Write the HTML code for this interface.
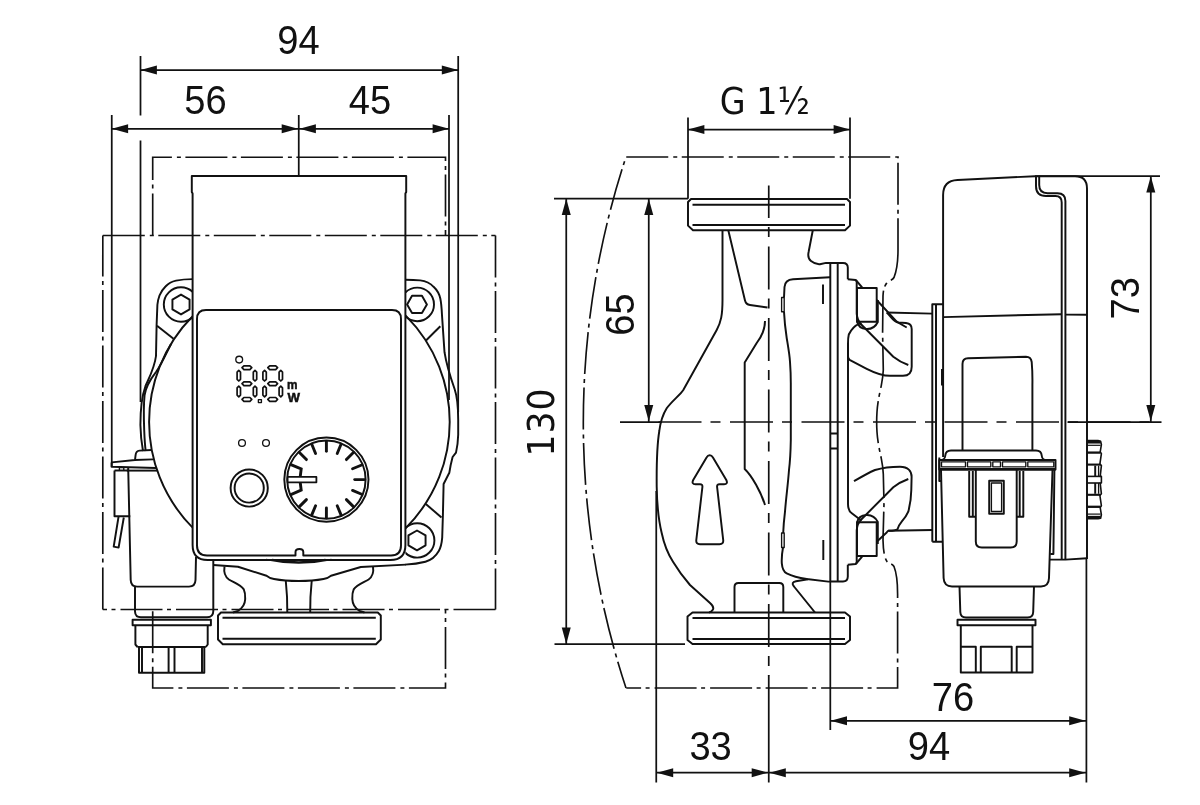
<!DOCTYPE html>
<html><head><meta charset="utf-8"><title>Pump dimensions</title>
<style>
html,body{margin:0;padding:0;background:#fff;}
body{width:1200px;height:805px;overflow:hidden;}
svg{display:block;will-change:transform;}
.o{fill:none;stroke:#111111;stroke-width:1.95;stroke-linejoin:round;stroke-linecap:butt;}
.w{fill:#fff;stroke:#111111;stroke-width:1.75;stroke-linejoin:round;}
.t{fill:none;stroke:#111111;stroke-width:1.35;stroke-linejoin:round;}
.k{fill:none;stroke:#111111;stroke-width:2.9;stroke-linecap:butt;stroke-linejoin:miter;}
.d{fill:none;stroke:#111111;stroke-width:1.75;}
.c{fill:none;stroke:#111111;stroke-width:1.65;stroke-dasharray:42 5 4 4.5;}
.m{fill:none;stroke:#111111;stroke-width:1.7;stroke-dasharray:43 9 10 9.5;}
.a{fill:#111111;stroke:none;}
text{font-family:"Liberation Sans",sans-serif;fill:#111111;}
.b{font-weight:bold;stroke:#111111;stroke-width:0.5px;}
</style></head><body>
<svg width="1200" height="805" viewBox="0 0 1200 805">
<g id="left-view">
<text class="n" transform="translate(298.4,54) scale(0.93,1)" text-anchor="middle" style="font-size:41px;">94</text>
<text class="n" transform="translate(205.4,113.5) scale(0.93,1)" text-anchor="middle" style="font-size:41px;">56</text>
<text class="n" transform="translate(370,113.5) scale(0.93,1)" text-anchor="middle" style="font-size:41px;">45</text>
<line class="d" x1="140.5" y1="70" x2="458.2" y2="70" />
<polygon class="a" points="140.50,70.00 156.90,65.50 156.90,74.50"/>
<polygon class="a" points="458.20,70.00 441.80,74.50 441.80,65.50"/>
<line class="d" x1="111.75" y1="128.75" x2="449" y2="128.75" />
<polygon class="a" points="111.75,128.75 128.15,124.25 128.15,133.25"/>
<polygon class="a" points="298.10,128.75 281.70,133.25 281.70,124.25"/>
<polygon class="a" points="299.50,128.75 315.90,124.25 315.90,133.25"/>
<polygon class="a" points="449.00,128.75 432.60,133.25 432.60,124.25"/>
<line class="d" x1="140.5" y1="56" x2="140.5" y2="115.5" />
<line class="d" x1="140.5" y1="140.5" x2="140.5" y2="402" />
<line class="d" x1="458.2" y1="56" x2="458.2" y2="412" />
<line class="d" x1="111.75" y1="115" x2="111.75" y2="466.8" />
<line class="d" x1="298.75" y1="115" x2="298.75" y2="176" />
<line class="d" x1="449" y1="115" x2="449" y2="400" />
<path class="c" d="M152.7,235.5 V157.2 H445.5 V235.5" stroke-dashoffset="0"/>
<path class="c" d="M152.7,609.5 V688 H445.5 V609.5" stroke-dashoffset="-1.7"/>
<path class="c" d="M102.8,235.5 H495.5" />
<path class="c" d="M495.5,235.5 V609.5" />
<path class="c" d="M495.5,609.5 H102.8" />
<path class="c" d="M102.8,609.5 V235.5" />
<clipPath id="cl"><rect x="0" y="0" width="192.6" height="805"/></clipPath>
<clipPath id="cr"><rect x="405.4" y="0" width="400" height="805"/></clipPath>
<g clip-path="url(#cl)">
<circle class="o" cx="299.4" cy="421.9" r="150.3"/>
<circle class="o" cx="181" cy="304.5" r="17.2"/>
<polygon class="o" points="181.00,294.60 172.43,299.55 172.43,309.45 181.00,314.40 189.57,309.45 189.57,299.55"/>
<path class="o" d="M196,279.1 H192.6 C187,279.1 181,279.6 176,280.6 C171.5,281.6 168,283.8 165.5,286.5 C162.5,289.5 160.6,292.5 159.5,295.5 C158.2,299 157.6,302 157.4,304.8 L156.6,325 L156,356 C154.5,368 149,378 145.5,386 C141.5,397 140.4,408 140.4,425 C140.6,435 141.5,443 143,451" />
<path class="o" d="M171,344 C166,354 161,365 156,372 C150,380 146,386 144.6,395 C143.6,405 143.8,420 144.2,430 C144.6,440 145,446 145.7,451" />
<line class="o" x1="157" y1="325.7" x2="173.5" y2="338.7" />
</g>
<g clip-path="url(#cr)">
<circle class="o" cx="299.4" cy="421.9" r="150.3"/>
<circle class="o" cx="417.2" cy="304.4" r="16.8"/>
<polygon class="o" points="426.90,304.40 421.95,295.83 412.05,295.83 407.10,304.40 412.05,312.97 421.95,312.97"/>
<circle class="o" cx="417.2" cy="540.4" r="17.2"/>
<polygon class="o" points="417.00,530.50 408.43,535.45 408.43,545.35 417.00,550.30 425.57,545.35 425.57,535.45"/>
<path class="o" d="M400,279.8 H405.4 C411,279.8 416,280 420.2,280.4 C426,281.2 430.5,283.5 433.6,286.8 C437,290 439.3,294 440.3,298.5 C441.3,303 441.7,309 442,315.3 L444.5,352.2 C446,362 450,376 454.6,389 C457,396 458.2,405 458.2,420 L458.2,434.7 C458,443 457,448 456,452.6 L452.6,457 C451,463 450,468 449.3,472.8 L443.6,484 L442.9,515.3 L442.2,537.7 C441.6,545 440.6,548 438.8,551 C435.6,556.6 430.6,560.3 425.4,561.7 C418,563.6 410,564.4 403.4,564.7" />
<line class="o" x1="440.3" y1="326.2" x2="426" y2="340.5" />
<line class="o" x1="425.8" y1="504" x2="441.5" y2="517.5" />
</g>
<path class="o" d="M111.6,462.4 L135,460 L135.6,455 Q136,451 139.5,450.6 L151.5,450" />
<path class="o" d="M135,460 L153,459.4" />
<path class="o" d="M111.6,462.4 V466.8 L156,468" />
<path class="o" d="M126.8,470.6 H157.4" />
<path class="t" d="M119.4,470.5 V467.6 H123.8 V470.5" />
<path class="o" d="M114.5,470.5 V516.3 H130.3" />
<path class="o" d="M114.5,470.5 H128.3" />
<path class="o" d="M118.6,516.3 L113.7,546.6 L118.6,547.6 L123.8,517.5" />
<path class="o" d="M128.2,468 L130.7,580 Q130.9,586.6 137,586.6 H189 Q195.3,586.6 195.5,580 L196,557" />
<path class="o" d="M135,586.6 V611.5 Q135.2,617.3 141,617.3 H207 Q213.3,617.3 213.3,611 V560.5" />
<rect class="o" x="132.6" y="619.7" width="78.3" height="5.6"/>
<path class="o" d="M135.4,625.3 V644.5 L137.5,647 M207.7,625.3 V644.5 L205.8,647" />
<path class="o" d="M139,647 V672.7 H204.3 V647" />
<path class="o" d="M137.5,647 H205.8" />
<path class="o" d="M142,647 V672.7 M168.6,647 V672.7 M174.5,647 V672.7 M202,647 V672.7" />
<path class="o" d="M213.3,565 L238,566.7 L266.5,575.8 Q269.5,578.3 274,579 C282,580.5 290,581 298.75,581 C307.5,581 315.5,580.5 323.5,579 Q328,578.3 331,575.8 L360.8,567 L406,564.6" />
<path class="o" d="M224.5,566.5 C223.5,573 225.5,577 228.9,579.5 C232.5,582 240.5,584.5 243.8,589.4 C245,592 245.3,596 245.2,599 C245,604 242,608.5 238,610.8 L233,612.5" />
<path class="o" d="M373,566.5 C374,573 372,577 368.6,579.5 C365,582 357,584.5 353.7,589.4 C352.5,592 352.2,596 352.3,599 C352.5,604 355.5,608.5 359.5,610.8 L364.5,612.5" />
<path class="o" d="M285.8,581 Q287.5,597 287.3,612.5 M311.7,581 Q310,597 310.2,612.5" />
<path class="t" d="M266,559.5 Q298.75,566.5 331.5,559.5 M272,559.5 Q298.75,564.5 325.5,559.5" />
<path class="o" d="M221,612.5 H377.8 L380.8,615.5 V639.5 L376,644.2 H222.8 L218,639.5 V615.5 Z" />
<path class="o" d="M222.5,617.8 H375.8 M222.5,638.8 H375.8" />
<path class="o" d="M191.8,176 H406.2 V192 L405.4,193.5 V544.9 Q405.4,559.9 390.4,559.9 H207.6 Q192.6,559.9 192.6,544.9 V193.5 L191.8,192 Z" />
<path class="o" d="M206,310 H392 Q401,310 401,319 V545.4 Q401,555.4 391,555.4 H303.3 V552 Q303.3,549 299.4,549 Q295.5,549 295.5,552 V555.4 H207 Q197,555.4 197,545.4 V319 Q197,310 206,310 Z" />
<circle class="t" cx="239.2" cy="359.6" r="3.4" style="stroke-width:1.35"/>
<polygon class="t" style="stroke-width:1.7" points="242.00,367.70 243.90,365.80 249.90,365.80 251.80,367.70 249.90,369.60 243.90,369.60"/>
<polygon class="t" style="stroke-width:1.7" points="242.00,383.70 243.90,381.80 249.90,381.80 251.80,383.70 249.90,385.60 243.90,385.60"/>
<polygon class="t" style="stroke-width:1.7" points="242.00,399.40 243.90,397.50 249.90,397.50 251.80,399.40 249.90,401.30 243.90,401.30"/>
<polygon class="t" style="stroke-width:1.7" points="238.80,370.40 240.50,372.10 240.50,379.30 238.80,381.00 237.10,379.30 237.10,372.10"/>
<polygon class="t" style="stroke-width:1.7" points="255.00,370.40 256.70,372.10 256.70,379.30 255.00,381.00 253.30,379.30 253.30,372.10"/>
<polygon class="t" style="stroke-width:1.7" points="238.80,386.20 240.50,387.90 240.50,395.10 238.80,396.80 237.10,395.10 237.10,387.90"/>
<polygon class="t" style="stroke-width:1.7" points="255.00,386.20 256.70,387.90 256.70,395.10 255.00,396.80 253.30,395.10 253.30,387.90"/>
<polygon class="t" style="stroke-width:1.7" points="267.80,367.70 269.70,365.80 275.70,365.80 277.60,367.70 275.70,369.60 269.70,369.60"/>
<polygon class="t" style="stroke-width:1.7" points="267.80,383.70 269.70,381.80 275.70,381.80 277.60,383.70 275.70,385.60 269.70,385.60"/>
<polygon class="t" style="stroke-width:1.7" points="267.80,399.40 269.70,397.50 275.70,397.50 277.60,399.40 275.70,401.30 269.70,401.30"/>
<polygon class="t" style="stroke-width:1.7" points="264.60,370.40 266.30,372.10 266.30,379.30 264.60,381.00 262.90,379.30 262.90,372.10"/>
<polygon class="t" style="stroke-width:1.7" points="280.80,370.40 282.50,372.10 282.50,379.30 280.80,381.00 279.10,379.30 279.10,372.10"/>
<polygon class="t" style="stroke-width:1.7" points="264.60,386.20 266.30,387.90 266.30,395.10 264.60,396.80 262.90,395.10 262.90,387.90"/>
<polygon class="t" style="stroke-width:1.7" points="280.80,386.20 282.50,387.90 282.50,395.10 280.80,396.80 279.10,395.10 279.10,387.90"/>
<rect class="t" style="stroke-width:1.4" x="258.4" y="399.6" width="3" height="3"/>
<text class="b" x="287" y="389" font-size="12.5px" textLength="10.5" lengthAdjust="spacingAndGlyphs">m</text>
<text class="b" x="287.6" y="402" font-size="13px" textLength="12.5" lengthAdjust="spacingAndGlyphs">W</text>
<circle class="t" cx="242" cy="443" r="3.4" style="stroke-width:1.3"/>
<circle class="t" cx="266" cy="443" r="3.4" style="stroke-width:1.3"/>
<circle class="o" cx="249.2" cy="488" r="18.6"/>
<circle class="o" cx="249.2" cy="488" r="14.6"/>
<circle class="o" cx="326.4" cy="479.6" r="42.1"/>
<circle class="o" cx="326.4" cy="479.6" r="39.2"/>
<line class="k" x1="354.70" y1="479.60" x2="364.60" y2="479.60" style="stroke-linecap:round"/>
<line class="k" x1="352.55" y1="468.77" x2="361.69" y2="464.98" style="stroke-linecap:round"/>
<line class="k" x1="346.41" y1="459.59" x2="353.41" y2="452.59" style="stroke-linecap:round"/>
<line class="k" x1="337.23" y1="453.45" x2="341.02" y2="444.31" style="stroke-linecap:round"/>
<line class="k" x1="326.40" y1="451.30" x2="326.40" y2="441.40" style="stroke-linecap:round"/>
<line class="k" x1="315.57" y1="453.45" x2="311.78" y2="444.31" style="stroke-linecap:round"/>
<line class="k" x1="306.39" y1="459.59" x2="299.39" y2="452.59" style="stroke-linecap:round"/>
<line class="k" x1="306.39" y1="499.61" x2="299.39" y2="506.61" style="stroke-linecap:round"/>
<line class="k" x1="315.57" y1="505.75" x2="311.78" y2="514.89" style="stroke-linecap:round"/>
<line class="k" x1="326.40" y1="507.90" x2="326.40" y2="517.80" style="stroke-linecap:round"/>
<line class="k" x1="337.23" y1="505.75" x2="341.02" y2="514.89" style="stroke-linecap:round"/>
<line class="k" x1="346.41" y1="499.61" x2="353.41" y2="506.61" style="stroke-linecap:round"/>
<line class="k" x1="352.55" y1="490.43" x2="361.69" y2="494.22" style="stroke-linecap:round"/>
<path class="k" d="M290.3,464.4 L301.2,469 L300.2,476.9" />
<path class="k" d="M290.3,494.8 L301.2,490.2 L300.2,482.3" />
<rect class="w" x="287.6" y="476.9" width="28.8" height="5.4" style="stroke-width:1.8"/>
</g>
<g id="right-view">
<text class="n" transform="translate(764.8,113.5) scale(0.99,1)" text-anchor="middle" style="font-size:37.5px;font-family:'DejaVu Sans Condensed','DejaVu Sans',sans-serif;">G 1½</text>
<text class="n" transform="translate(710.6,760) scale(0.93,1)" text-anchor="middle" style="font-size:41px;">33</text>
<text class="n" transform="translate(929,760.3) scale(0.93,1)" text-anchor="middle" style="font-size:41px;">94</text>
<text class="n" transform="translate(953,711.2) scale(0.93,1)" text-anchor="middle" style="font-size:41px;">76</text>
<text class="n" transform="translate(553.6,422) rotate(-90) scale(0.93,1)" text-anchor="middle" style="font-size:37.2px;letter-spacing:1.05px;font-family:'DejaVu Sans',sans-serif;">130</text>
<text class="n" transform="translate(634,314.6) rotate(-90) scale(0.93,1)" text-anchor="middle" style="font-size:41px;">65</text>
<text class="n" transform="translate(1139,298.3) rotate(-90) scale(0.93,1)" text-anchor="middle" style="font-size:41px;">73</text>
<line class="d" x1="688" y1="129.5" x2="850" y2="129.5" />
<polygon class="a" points="688.00,129.50 704.40,125.00 704.40,134.00"/>
<polygon class="a" points="850.00,129.50 833.60,134.00 833.60,125.00"/>
<line class="d" x1="688" y1="117.5" x2="688" y2="198.7" />
<line class="d" x1="850" y1="117.5" x2="850" y2="198.7" />
<line class="d" x1="566.25" y1="198.7" x2="566.25" y2="644" />
<polygon class="a" points="566.25,198.70 570.75,215.10 561.75,215.10"/>
<polygon class="a" points="566.25,644.00 561.75,627.60 570.75,627.60"/>
<line class="d" x1="554" y1="198.7" x2="688" y2="198.7" />
<line class="d" x1="554.5" y1="644" x2="685" y2="644" />
<line class="d" x1="648.75" y1="198.7" x2="648.75" y2="422" />
<polygon class="a" points="648.75,198.70 653.25,215.10 644.25,215.10"/>
<polygon class="a" points="648.75,421.30 644.25,404.90 653.25,404.90"/>
<line class="d" x1="1150.8" y1="176.2" x2="1150.8" y2="422" />
<polygon class="a" points="1150.80,176.20 1155.30,192.60 1146.30,192.60"/>
<polygon class="a" points="1150.80,421.30 1146.30,404.90 1155.30,404.90"/>
<line class="d" x1="1035" y1="176.2" x2="1160" y2="176.2" />
<line class="d" x1="1067.5" y1="422" x2="1161.5" y2="422" />
<line class="d" x1="830" y1="720.8" x2="1086.2" y2="720.8" />
<polygon class="a" points="830.60,720.80 847.00,716.30 847.00,725.30"/>
<polygon class="a" points="1085.60,720.80 1069.20,725.30 1069.20,716.30"/>
<line class="d" x1="830.3" y1="581" x2="830.3" y2="730" />
<line class="d" x1="656.25" y1="772.7" x2="1086.2" y2="772.7" />
<polygon class="a" points="656.80,772.70 673.20,768.20 673.20,777.20"/>
<polygon class="a" points="768.10,772.70 751.70,777.20 751.70,768.20"/>
<polygon class="a" points="769.40,772.70 785.80,768.20 785.80,777.20"/>
<polygon class="a" points="1085.60,772.70 1069.20,777.20 1069.20,768.20"/>
<line class="d" x1="656.25" y1="491" x2="656.25" y2="782.5" />
<line class="d" x1="768.75" y1="675" x2="768.75" y2="782.5" />
<line class="d" x1="1086.4" y1="559" x2="1086.4" y2="782.5" />
<line class="d" x1="620" y1="422" x2="662" y2="422" />
<line class="m" x1="658.5" y1="422" x2="1150" y2="422"/>
<line class="m" x1="768.75" y1="185.5" x2="768.75" y2="676" stroke-dashoffset="10.4"/>
<path class="c" d="M626.25,157 H898 V250" stroke-dashoffset="0"/>
<path class="c" d="M898,250 C898,260 897,270 894,277.5 C892,281 888,280 886.7,283 C884,287 883.3,290 883,296 L882.6,333 L883.3,370 C883,378 881.5,384 880.8,388 C879,396 877.5,404 877,412 C876.6,418 876.6,426 877,432 C877.5,440 879,448 880.8,456 C881.5,460 883,466 883.3,474 L884,503 L883,540 C883.2,548 884,557 886.7,561 C888,564 892,563 894,566.5 C897,574 897.6,584 897.6,594" stroke-dashoffset="9.9"/>
<path class="c" d="M897.6,594 V688 H626.25" stroke-dashoffset="38"/>
<path class="c" d="M626,157 A847,847 0 0 0 626,688" stroke-dashoffset="42.5"/>
<path class="o" d="M691,199 H847 L850,202 V225.6 L845,230.3 H693 L688,225.6 V202 Z" />
<path class="o" d="M692.5,204.7 H845 M692.5,225 H845" />
<path class="o" d="M692.5,612.5 H845 L850,616.5 V640 L845,644 H692.5 L687.5,640 V616.5 Z" />
<path class="o" d="M692.5,618 H845 M692.5,639 H845" />
<path class="o" d="M722.5,230.3 V300 C722.5,315 721,322 716.7,330 L683.3,390 C680.5,394.5 671.5,401.5 666.7,408.3 C662.5,415 660.3,423 659.3,431 C657,445 656.5,465 656.7,486.7 C657,505 658.5,520 661.7,533 C664,544 668,554 673,561.7 C678,570 684,578 690,585 L710,603 Q714.5,607 712.8,609.8 Q711.5,612 709,612.5" />
<path class="o" d="M728.3,230.3 L745,300.5 Q746,304.5 750,305 L767.5,307.5" />
<path class="o" d="M765,321 C765,330 762,336 756.7,343 L744.7,362.5 V469 C752,476 761,492 765,505" />
<path class="o" d="M812.8,230.3 L808.6,252 Q807.3,258 811,261 Q816,265 821,264 L826,262.9 H830" />
<path class="o" d="M815,612.5 L794,586.5 Q790.5,582.5 796,581.3 L808,579.3" />
<path class="o" d="M734.5,612.5 V587 Q734.5,583 738.5,583 H779.3 Q783.3,583 783.3,587 V612.5" />
<path class="o" d="M709.7,455.3 Q711.7,455.3 712.8,457.3 L726.3,480 Q728.3,484.2 724,484.2 H719.5 Q716.8,484.2 717.1,487 L723.2,540 Q723.7,544.2 719.5,544.2 H700 Q695.8,544.2 696.3,540 L702.4,487 Q702.7,484.2 700,484.2 H695.5 Q691.2,484.2 693.2,480 L706.7,457.3 Q707.8,455.3 709.7,455.3 Z" />
<path class="o" d="M830,277.2 L793,279.3 Q785,279.8 784.5,287 L784,297.5 M784,311.7 C784.5,322 785.5,330 786.7,338 C788,346 789.5,354 790,361.7 C790.6,370 790.8,376 790.8,383 V440 C790.6,452 790,462 789,470 C788,484 786,498 785,511.7 C784,520 783.5,526 783.2,533 M783,547.5 C782,553 781.5,558 781.8,563.3 C782.3,569 784,572 786.7,573.3 C793,576.5 800,578 806.7,579 L828.3,581.6 H830.3" />
<rect class="t" x="781.6" y="297.5" width="2.6" height="14.2"/>
<rect class="t" x="781.6" y="533" width="2.6" height="14.5"/>
<line class="o" x1="823" y1="284.5" x2="823" y2="304" />
<line class="o" x1="823.3" y1="540" x2="823.3" y2="560" />
<path class="o" d="M830.3,262.9 V581.5 M837.7,262.9 V581.5" />
<path class="o" d="M826,262.9 H843 Q847.8,262.9 847.8,267.5 V279.2 M848,343 V504.3 C848,509 850,512 851.8,513.2 L860,519.5 M847.8,564.7 V576.5 Q847.8,581.5 843,581.5 H830.3" />
<path class="o" d="M830.3,433.5 H837.7 M830.3,448.5 H837.7" />
<path class="o" d="M847.8,279.2 L855.6,280 L856.7,281.5 V313.6 Q857,320 861.5,324.8" />
<rect class="o" x="857" y="288" width="19.7" height="33.8"/>
<path class="o" d="M855.8,280 L862.5,287.8" />
<path class="o" d="M857,321.3 C859,331 873,332 877.8,322 V300" />
<path class="o" d="M860,323.3 L893.3,356.7 Q900,362 908.3,365" />
<g transform="matrix(1 0 0 -1 0 844)">
<path class="o" d="M847.8,279.2 L855.6,280 L856.7,281.5 V313.6 Q857,320 861.5,324.8" />
<rect class="o" x="857" y="288" width="19.7" height="33.8"/>
<path class="o" d="M855.8,280 L862.5,287.8" />
<path class="o" d="M857,321.3 C859,331 873,332 877.8,322 V300" />
<path class="o" d="M860,323.3 L893.3,356.7 Q900,362 908.3,365" />
</g>
<path class="o" d="M876.7,300 L896.7,321.7 L906.7,327.5" />
<path class="o" d="M860,323.3 C856,325 851,329.5 848.8,334.5 C848.2,337 848,340 848,343.4 V356 C848,358 848.6,359 849.6,359.8 L866.7,368.8 C875,373 882,375.8 890,375.8 H903 C909,375.8 911.7,372 911.7,366.7 V329 C911.7,325 909,323.3 906,323 L898.3,322.5 C893,322 891,316 886.7,312.5" />
<path class="o" d="M886.7,312.5 L932.3,313.6" />
<path class="o" d="M854,481.2 C862,476.5 868,473 875,470 C884,467.3 892,466.7 900,466.7 C908,466.7 911.7,471 911.6,477 L911.3,490 C911.2,497 910,505 908.3,511.7 C906.5,516 904,519 901.7,521.7 C899,525 898,527.5 897.5,529.2 C895,531 891,530.8 888.3,530.8" />
<path class="o" d="M876.7,541.7 L886.7,532.5 Q887.6,531.3 888.3,530.8 L932.3,530" />
<path class="o" d="M932.3,541.7 V304.2 H943.1 M936,304.2 V541.7 M932.3,541.7 H942" />
<line class="o" x1="942.2" y1="369" x2="942.2" y2="385.5" style="stroke-width:2.4"/>
<path class="o" d="M943.1,457 V195 Q943.1,180.6 957.5,180 L1035,176.2 H1075 Q1087,176.2 1087,188.5 V559" />
<path class="o" d="M943.1,317.1 L1061.7,314.2 M1065.4,314.6 L1087,314.7" />
<path class="o" d="M1036,176.2 V186 Q1036,196 1046,196 H1055.5 Q1061.7,196 1061.7,202.5 V559.7" />
<path class="o" d="M1039.2,176.2 V185 Q1039.2,193.2 1047.5,193.2 H1057.5 Q1065.4,193.2 1065.4,201 V559.7" />
<path class="o" d="M1049.8,559.6 H1065.4 L1087,558.3" />
<path class="o" d="M962.5,450.3 V364 Q962.5,358.4 968,358.3 L1026,356.8 Q1031,356.8 1031.7,362 Q1032.6,372 1032.4,385 V450.3" />
<path class="o" d="M940,460 C944,460 945,458.5 945.3,455.5 Q945.6,450.4 951,450.4 H1036 Q1041.4,450.4 1041.7,455.5 C1042,458.5 1043,460 1047,460" />
<path class="o" d="M939.3,460 H1055.5 V469.5 H939.3 Z" />
<path class="o" d="M939.3,469.3 H1055.5" style="stroke-width:2.4"/>
<path class="o" d="M939.3,457.5 V481 H941.5" />
<rect class="t" x="967.5" y="461.8" width="23.299999999999955" height="5"/>
<rect class="t" x="1002.5" y="461.8" width="23.299999999999955" height="5"/>
<rect class="t" x="941.5" y="461.8" width="24" height="5"/>
<rect class="t" x="992.8" y="461.8" width="7.7" height="5"/>
<rect class="t" x="1027.8" y="461.8" width="26" height="5"/>
<path class="o" d="M941,470 L943.6,578 Q944,586.4 952,586.4 H1041 Q1048.8,586.4 1049,578 L1052.5,470" />
<path class="o" d="M1054.4,470 L1053.4,554 H1050.3" />
<path class="o" d="M975.8,470 V541.5 Q975.8,547.5 981.8,547.5 H1010.7 Q1016.7,547.5 1016.7,541.5 V470" />
<path class="o" d="M969.2,471 V516.7 H975.8 M972.8,471 V516.7" />
<path class="o" d="M1023.3,471 V516.7 H1016.7 M1019.7,471 V516.7" />
<rect class="o" x="989.2" y="480.8" width="14.6" height="32.9"/>
<rect class="t" x="991.4" y="483" width="10.2" height="28.5"/>
<path class="o" d="M959.5,586.3 L960.3,612 Q960.5,617.5 966,617.5 H1027.5 Q1033,617.5 1033.2,612 L1034,586.3" />
<rect class="o" x="957.5" y="619.7" width="78" height="5.6"/>
<path class="o" d="M960.8,625.3 V672.5 H1032.5 V625.3" />
<path class="o" d="M960.8,646.7 H975.8 V672.5 M980.8,672.5 V646.7 H1011.7 V672.5 M1016.7,672.5 V646.7 H1032.5" />
<polyline class="o" style="stroke-width:1.6" points="1087.0,440.6 1098.0,440.6 1100.6,441.2 1101.4,444.6 1100.2,451.8 1101.4,453.6 1099.9,463.9 1101.4,465.6 1100.2,476.4 1101.4,476.4 1101.4,483.0 1100.2,483.0 1101.4,493.8 1099.9,495.5 1101.4,505.8 1100.2,507.6 1101.4,514.8 1100.6,518.2 1098.0,518.8 1087.0,518.8"/>
<line class="o" style="stroke-width:2.9" x1="1087" y1="442.1" x2="1100.6" y2="442.1"/>
<line class="o" style="stroke-width:2.9" x1="1087" y1="517.3" x2="1100.6" y2="517.3"/>
<line class="o" style="stroke-width:1.2" x1="1087" y1="445.3" x2="1100.6" y2="445.3"/>
<line class="o" style="stroke-width:1.2" x1="1087" y1="514.1" x2="1100.6" y2="514.1"/>
<line class="o" style="stroke-width:2.3" x1="1087" y1="452.6" x2="1100.6" y2="452.6"/>
<line class="o" style="stroke-width:2.3" x1="1087" y1="506.8" x2="1100.6" y2="506.8"/>
<line class="o" style="stroke-width:2.1" x1="1087" y1="464.6" x2="1100.6" y2="464.6"/>
<line class="o" style="stroke-width:2.1" x1="1087" y1="494.8" x2="1100.6" y2="494.8"/>
<line class="o" style="stroke-width:1.6" x1="1087" y1="476.4" x2="1100.6" y2="476.4"/>
<line class="o" style="stroke-width:1.6" x1="1087" y1="483.0" x2="1100.6" y2="483.0"/>
<line class="o" x1="1095.2" y1="465.6" x2="1095.2" y2="476.4" />
<line class="t" x1="1098.6" y1="465.6" x2="1098.6" y2="476.4" />
<line class="o" x1="1095.2" y1="483" x2="1095.2" y2="493.8" />
<line class="t" x1="1098.6" y1="483" x2="1098.6" y2="493.8" />
</g>
</svg>
</body></html>
